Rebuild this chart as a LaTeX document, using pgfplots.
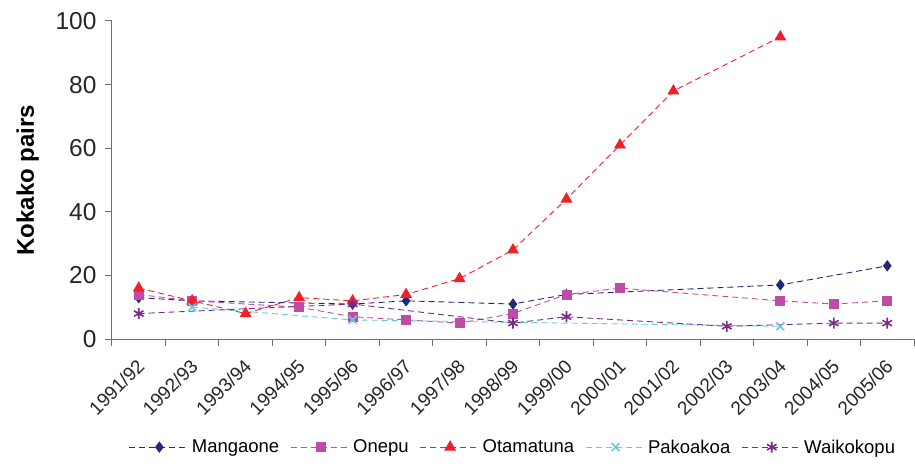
\documentclass[border=0pt]{standalone}
\usepackage{fontspec}
\setmainfont{Liberation Sans}
\usepackage{pgfplots}
\pgfplotsset{compat=1.18}
\definecolor{cMang}{HTML}{23287A}
\definecolor{cOne}{HTML}{BF4AA8}
\definecolor{cOta}{HTML}{EE2028}
\definecolor{cPak}{HTML}{66CCDD}
\definecolor{cWai}{HTML}{7B2A88}
\definecolor{axgray}{HTML}{707070}

\begin{document}
\begin{tikzpicture}
\begin{axis}[
    scale only axis,
    width=802pt, height=318pt,
    xmin=-0.5, xmax=14.5, ymin=0, ymax=100,
    axis x line=bottom, axis y line=left,
    axis line style={-, draw=axgray, line width=1pt},
    tick align=outside,
    tick style={draw=axgray, line width=1pt},
    major tick length=7pt, minor tick length=7pt,
    xtick={0,...,14},
    major x tick style={draw=none},
    minor xtick={-0.5,0.5,...,14.5},
    xticklabels={1991/92,1992/93,1993/94,1994/95,1995/96,1996/97,1997/98,1998/99,1999/00,2000/01,2001/02,2002/03,2003/04,2004/05,2005/06},
    xticklabel style={rotate=45, anchor=north east, font=\fontsize{19}{21}\selectfont, text=black!85, xshift=-7pt, yshift=-3pt},
    ytick={0,20,...,100},
    yticklabel style={font=\fontsize{24.5}{27}\selectfont, text=black!85, xshift=-5pt},
    /pgf/number format/assume math mode=true,
    ylabel={\textbf{Kokako pairs}},
    every axis y label/.style={at={(axis description cs:-0.105,0.5)}, rotate=90, anchor=center, font=\fontsize{24}{27}\selectfont},
    clip=false,
    legend columns=5,
    legend style={at={(0.5,-0.34)}, anchor=center, draw=none, font=\fontsize{18.5}{20}\selectfont,
        /tikz/every even column/.append style={column sep=9pt}},
    legend image code/.code={\draw[mark repeat=2, mark phase=2] plot coordinates {(0pt,0pt) (30pt,0pt) (60pt,0pt)};},
    every axis plot/.append style={line width=0.9pt, dash pattern=on 6pt off 4pt},
]
\addplot[color=cMang, mark=diamond*, mark size=5pt, mark options={solid, fill=cMang}] coordinates {
    (0,13) (1,12) (4,11) (5,12) (7,11) (8,14) (12,17) (14,23)
};
\addlegendentry{Mangaone}
\addplot[color=cOne, mark=square*, mark size=4.5pt, mark options={solid, fill=cOne}] coordinates {
    (0,14) (1,12) (3,10) (4,7) (5,6) (6,5) (7,8) (8,14) (9,16) (12,12) (13,11) (14,12)
};
\addlegendentry{Onepu}
\addplot[color=cOta, mark=triangle*, mark size=6pt, mark options={solid, fill=cOta}] coordinates {
    (0,16) (1,12) (2,8) (3,13) (4,12) (5,14) (6,19) (7,28) (8,44) (9,61) (10,78) (12,95)
};
\addlegendentry{Otamatuna}
\addplot[color=cPak, mark=x, mark size=5.5pt, mark options={solid, line width=1.6pt}] coordinates {
    (1,10) (4,6) (12,4)
};
\addlegendentry{Pakoakoa}
\addplot[color=cWai, mark=asterisk, mark size=5.5pt, mark options={solid, line width=1.6pt}] coordinates {
    (0,8) (4,11) (7,5) (8,7) (11,4) (13,5) (14,5)
};
\addlegendentry{Waikokopu}
\end{axis}
\pgfresetboundingbox
\useasboundingbox (-112pt,-127pt) rectangle (803pt,339pt);
\end{tikzpicture}
\end{document}
